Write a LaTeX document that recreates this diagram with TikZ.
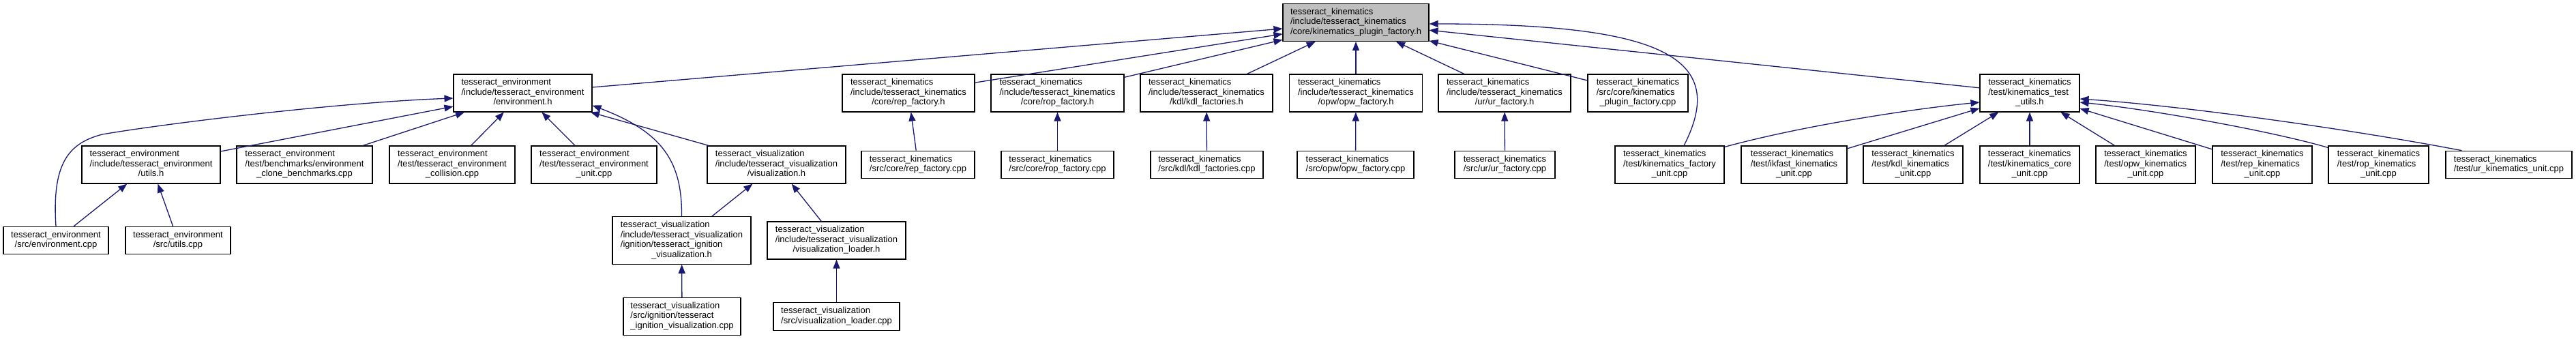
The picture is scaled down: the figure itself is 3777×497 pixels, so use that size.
\documentclass[tikz,border=0pt]{standalone}
\usepackage{fontspec}
\setmainfont{Liberation Sans}
\usepackage{xcolor}
\definecolor{edgeblue}{RGB}{25, 25, 112}
\definecolor{rootgray}{RGB}{191, 191, 191}
\usepackage{tikz}
\usetikzlibrary{arrows.meta, calc}
\newcommand{\flab}[2]{\begin{tabular}{@{}l@{}}#1\\\multicolumn{1}{@{}c@{}}{#2}\end{tabular}}

\begin{document}
\begin{tikzpicture}[
    x=1pt, y=-1pt,
    fbox/.style={rectangle, draw=black, fill=white, line width=1.1pt, inner xsep=10pt, inner ysep=5.75pt, font=\fontsize{13}{14.5}\selectfont},
    dep/.style={-{Triangle[length=13pt, width=10pt]}, line width=1.3pt, edgeblue}
  ]
    \useasboundingbox (0,0) rectangle (3777,497);

    % root
    \node[fbox, fill=rootgray, minimum width=214pt] (kpf_h) at (1988,33) {\flab{tesseract\_kinematics\\/include/tesseract\_kinematics}{/core/kinematics\_plugin\_factory.h}};

    % second row
    \node[fbox, minimum width=203pt] (env_h) at (766.5,136.5) {\flab{tesseract\_environment\\/include/tesseract\_environment}{/environment.h}};
    \node[fbox, minimum width=194pt] (rep_h) at (1332,136.5) {\flab{tesseract\_kinematics\\/include/tesseract\_kinematics}{/core/rep\_factory.h}};
    \node[fbox, minimum width=195pt] (rop_h) at (1550.5,136.5) {\flab{tesseract\_kinematics\\/include/tesseract\_kinematics}{/core/rop\_factory.h}};
    \node[fbox, minimum width=194pt] (kdl_h) at (1769,136.5) {\flab{tesseract\_kinematics\\/include/tesseract\_kinematics}{/kdl/kdl\_factories.h}};
    \node[fbox, minimum width=195pt] (opw_h) at (1988,136.5) {\flab{tesseract\_kinematics\\/include/tesseract\_kinematics}{/opw/opw\_factory.h}};
    \node[fbox, minimum width=194pt] (ur_h) at (2206,136.5) {\flab{tesseract\_kinematics\\/include/tesseract\_kinematics}{/ur/ur\_factory.h}};
    \node[fbox, minimum width=147pt] (kpf_cpp) at (2401.5,136.5) {\flab{tesseract\_kinematics\\/src/core/kinematics}{\_plugin\_factory.cpp}};
    \node[fbox, minimum width=146pt] (ktu_h) at (2976,136.5) {\flab{tesseract\_kinematics\\/test/kinematics\_test}{\_utils.h}};

    % third row
    \node[fbox, minimum width=203pt] (eutils_h) at (221.5,241.5) {\flab{tesseract\_environment\\/include/tesseract\_environment}{/utils.h}};
    \node[fbox, minimum width=199pt] (clone_cpp) at (446.5,241.5) {\flab{tesseract\_environment\\/test/benchmarks/environment}{\_clone\_benchmarks.cpp}};
    \node[fbox, minimum width=184pt] (coll_cpp) at (663,241.5) {\flab{tesseract\_environment\\/test/tesseract\_environment}{\_collision.cpp}};
    \node[fbox, minimum width=184pt] (eunit_cpp) at (871,241.5) {\flab{tesseract\_environment\\/test/tesseract\_environment}{\_unit.cpp}};
    \node[fbox, minimum width=203pt] (vis_h) at (1138.5,241.5) {\flab{tesseract\_visualization\\/include/tesseract\_visualization}{/visualization.h}};
    \node[fbox, minimum width=166pt] (rep_cpp) at (1346,241.5) {\flab{tesseract\_kinematics}{/src/core/rep\_factory.cpp}};
    \node[fbox, minimum width=165pt] (rop_cpp) at (1550.5,241.5) {\flab{tesseract\_kinematics}{/src/core/rop\_factory.cpp}};
    \node[fbox, minimum width=165pt] (kdl_cpp) at (1769.5,241.5) {\flab{tesseract\_kinematics}{/src/kdl/kdl\_factories.cpp}};
    \node[fbox, minimum width=171pt] (opw_cpp) at (1987.5,241.5) {\flab{tesseract\_kinematics}{/src/opw/opw\_factory.cpp}};
    \node[fbox, minimum width=147pt] (ur_cpp) at (2206.5,241.5) {\flab{tesseract\_kinematics}{/src/ur/ur\_factory.cpp}};
    \node[fbox, minimum width=160pt] (kfu_cpp) at (2448,241.5) {\flab{tesseract\_kinematics\\/test/kinematics\_factory}{\_unit.cpp}};
    \node[fbox, minimum width=155pt] (ikfast_cpp) at (2630.5,241.5) {\flab{tesseract\_kinematics\\/test/ikfast\_kinematics}{\_unit.cpp}};
    \node[fbox, minimum width=146pt] (kdlu_cpp) at (2805,241.5) {\flab{tesseract\_kinematics\\/test/kdl\_kinematics}{\_unit.cpp}};
    \node[fbox, minimum width=146pt] (core_cpp) at (2976,241.5) {\flab{tesseract\_kinematics\\/test/kinematics\_core}{\_unit.cpp}};
    \node[fbox, minimum width=146pt] (opwu_cpp) at (3146,241.5) {\flab{tesseract\_kinematics\\/test/opw\_kinematics}{\_unit.cpp}};
    \node[fbox, minimum width=146pt] (repu_cpp) at (3317,241.5) {\flab{tesseract\_kinematics\\/test/rep\_kinematics}{\_unit.cpp}};
    \node[fbox, minimum width=147pt] (ropu_cpp) at (3487.5,241.5) {\flab{tesseract\_kinematics\\/test/rop\_kinematics}{\_unit.cpp}};
    \node[fbox, minimum width=185pt] (uru_cpp) at (3678.5,241.5) {\flab{tesseract\_kinematics}{/test/ur\_kinematics\_unit.cpp}};

    % fourth and fifth rows
    \node[fbox, minimum width=154pt] (env_cpp) at (82,352.5) {\flab{tesseract\_environment}{/src/environment.cpp}};
    \node[fbox, minimum width=154pt] (utils_cpp) at (261,352.5) {\flab{tesseract\_environment}{/src/utils.cpp}};
    \node[fbox, minimum width=203pt] (ign_h) at (999.5,352.5) {\flab{tesseract\_visualization\\/include/tesseract\_visualization\\/ignition/tesseract\_ignition}{\_visualization.h}};
    \node[fbox, minimum width=203pt] (vl_h) at (1226.5,352.5) {\flab{tesseract\_visualization\\/include/tesseract\_visualization}{/visualization\_loader.h}};
    \node[fbox, minimum width=172pt] (ign_cpp) at (1000,464) {\flab{tesseract\_visualization\\/src/ignition/tesseract}{\_ignition\_visualization.cpp}};
    \node[fbox, minimum width=185pt] (vl_cpp) at (1226.5,464) {\flab{tesseract\_visualization}{/src/visualization\_loader.cpp}};

    % includes of the plugin factory
    \draw[dep] (env_h) -- (kpf_h);
    \draw[dep] (rep_h) -- (kpf_h);
    \draw[dep] (rop_h) -- (kpf_h);
    \draw[dep] (kdl_h) -- (kpf_h);
    \draw[dep] (opw_h) -- (kpf_h);
    \draw[dep] (ur_h) -- (kpf_h);
    \draw[dep] (kpf_cpp) -- (kpf_h);
    \draw[dep] (ktu_h) -- (kpf_h);
    \draw[dep] ($(kfu_cpp.north)+(21,0)$) .. controls (2535,85) and (2440,35) .. ($(kpf_h.east)+(0,2)$);

    \draw[dep] (rep_cpp) -- (rep_h);
    \draw[dep] (rop_cpp) -- (rop_h);
    \draw[dep] (kdl_cpp) -- (kdl_h);
    \draw[dep] (opw_cpp) -- (opw_h);
    \draw[dep] (ur_cpp) -- (ur_h);

    % environment side
    \draw[dep] (eutils_h) -- (env_h);
    \draw[dep] (clone_cpp) -- (env_h);
    \draw[dep] (coll_cpp) -- (env_h);
    \draw[dep] (eunit_cpp) -- (env_h);
    \draw[dep] (vis_h) -- (env_h);
    \draw[dep] (env_cpp.north) .. controls (76,240) and (100,210) .. (150,197) .. controls (250,180) and (500,150) .. ($(env_h.west)+(0,7.5)$);
    \draw[dep] (ign_h.north) .. controls (1000,240) and (975,195) .. ($(env_h.south east)+(0,-10)$);
    \draw[dep] (env_cpp) -- (eutils_h);
    \draw[dep] (utils_cpp) -- (eutils_h);
    \draw[dep] (ign_h) -- (vis_h);
    \draw[dep] (vl_h) -- (vis_h);
    \draw[dep] (ign_cpp) -- (ign_h);
    \draw[dep] (vl_cpp) -- (vl_h);

    % kinematics test utils
    \draw[dep] ($(kfu_cpp.north east)+(0,2)$) .. controls (2640,185) and (2800,160) .. ($(ktu_h.west)+(0,13.5)$);
    \draw[dep] (ikfast_cpp) -- (ktu_h);
    \draw[dep] (kdlu_cpp) -- (ktu_h);
    \draw[dep] (core_cpp) -- (ktu_h);
    \draw[dep] (opwu_cpp) -- (ktu_h);
    \draw[dep] (repu_cpp) -- (ktu_h);
    \draw[dep] ($(ropu_cpp.north west)+(0,3)$) .. controls (3330,192) and (3150,160) .. ($(ktu_h.east)+(0,13.5)$);
    \draw[dep] ($(uru_cpp.north west)+(24,0)$) .. controls (3450,190) and (3200,155) .. ($(ktu_h.east)+(0,8.5)$);
\end{tikzpicture}
\end{document}
